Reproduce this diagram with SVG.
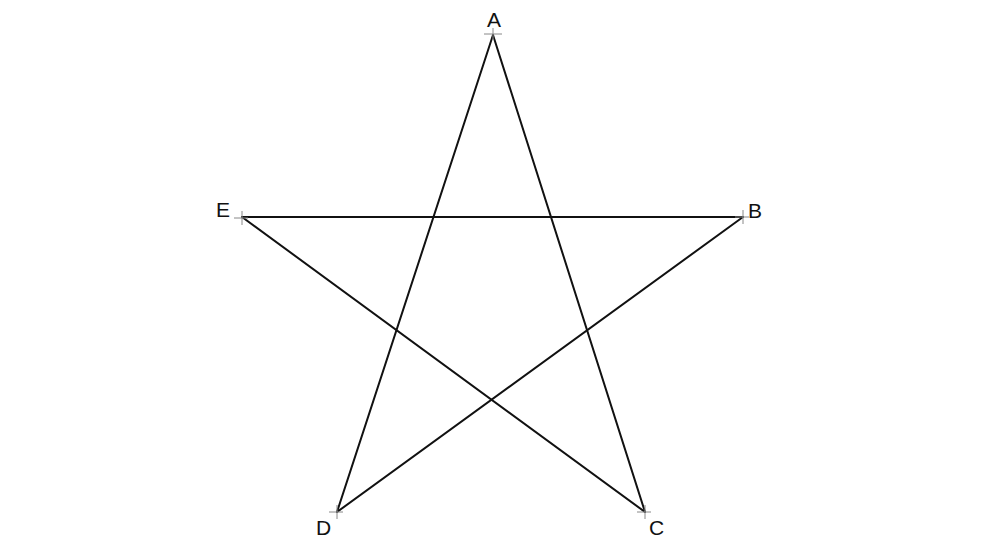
<svg xmlns="http://www.w3.org/2000/svg" width="990" height="556" viewBox="0 0 990 556">
<style>
.edge{stroke:#111;stroke-width:2;fill:none;stroke-linecap:round}
.tick{stroke:#888;stroke-width:1;fill:none}
.lbl{font-family:"Liberation Sans",Arial,sans-serif;font-size:21px;fill:#111}
</style>
<rect width="990" height="556" fill="#fff"/>
<g id="connectors">
<line class="edge" x1="493" y1="35" x2="337" y2="512"/>
<line class="edge" x1="493" y1="35" x2="645" y2="512"/>
<line class="edge" x1="242" y1="217" x2="743" y2="217"/>
<line class="edge" x1="242" y1="217" x2="645" y2="512"/>
<line class="edge" x1="743" y1="217" x2="337" y2="512"/>
</g>
<g id="A">
<path class="tick" d="M484 34h18M493 28v12"/>
<text class="lbl" x="494" y="27" text-anchor="middle">A</text>
</g>
<g id="B">
<path class="tick" d="M735 217h14M743 210v14"/>
<text class="lbl" x="748" y="218">B</text>
</g>
<g id="E">
<path class="tick" d="M234 218h14M242 211v14"/>
<text class="lbl" x="216" y="217">E</text>
</g>
<g id="D">
<path class="tick" d="M329 512h14M337 505v14"/>
<text class="lbl" x="316" y="535">D</text>
</g>
<g id="C">
<path class="tick" d="M637 512h14M645 505v14"/>
<text class="lbl" x="649" y="535">C</text>
</g>
</svg>
